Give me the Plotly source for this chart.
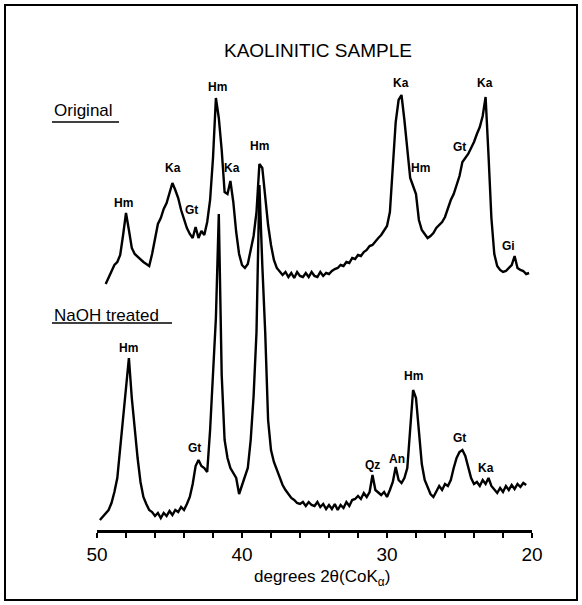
import numpy as np
import plotly.graph_objects as go

# ---------------- data ----------------
# degrees 2-theta grid endpoints (0.2 degree sampling, descending)
ORIG_START, ORIG_END = 49.4, 20.2
NAOH_START, NAOH_END = 49.8, 20.4

# Original sample intensities (arbitrary units, includes vertical offset)
orig_counts = [
    246, 252, 258, 265, 268, 275, 295, 317,
    300, 282, 276, 273, 271, 268, 266, 264, 276, 292,
    306, 312, 321, 327, 338, 347, 340, 332, 320, 310,
    302, 296, 292, 303, 292, 299, 295, 308, 330, 372,
    432, 412, 380, 338, 336, 349, 328, 298, 276, 265,
    262, 266, 280, 294, 318, 366, 362, 334, 305, 285,
    270, 262, 258, 255, 258, 253, 257, 252, 258, 254,
    253, 257, 253, 258, 254, 253, 258, 254, 257, 256,
    259, 261, 262, 265, 264, 268, 267, 272, 271, 275,
    274, 278, 280, 284, 285, 289, 292, 295, 299, 304,
    318, 360, 408, 430, 435, 410, 378, 352, 344, 336,
    310, 300, 296, 292, 294, 297, 302, 305, 308, 313,
    322, 330, 336, 346, 354, 368, 372, 376, 382, 388,
    396, 403, 414, 433, 375, 312, 276, 264, 260, 258,
    259, 262, 265, 274, 262, 260, 259, 256, 257,
]

# NaOH treated sample intensities
naoh_counts = [
    10, 13, 17, 20, 27, 38, 52, 82, 110, 145,
    172, 132, 100, 72, 48, 33, 26, 20, 18, 14,
    17, 12, 17, 14, 19, 15, 20, 18, 23, 20,
    26, 33, 46, 64, 70, 64, 62, 58, 100, 155,
    212, 316, 155, 90, 72, 62, 57, 52, 36, 44,
    52, 62, 90, 134, 198, 345, 265, 198, 110, 80,
    68, 60, 52, 45, 40, 36, 32, 30, 27, 26,
    28, 24, 28, 25, 24, 28, 23, 26, 21, 25,
    21, 26, 20, 25, 22, 28, 24, 30, 31, 34,
    31, 37, 33, 38, 55, 40, 37, 35, 38, 33,
    40, 48, 63, 50, 47, 52, 62, 102, 140, 132,
    96, 66, 50, 42, 36, 33, 38, 44, 40, 46,
    44, 50, 62, 72, 78, 80, 74, 64, 52, 46,
    48, 44, 50, 46, 52, 44, 40, 37, 42, 38,
    44, 40, 45, 41, 46, 43, 47, 45,
]

# peak labels: (text, degrees, intensity)
orig_labels = ["Hm", "Ka", "Gt", "Hm", "Ka", "Hm", "Ka", "Hm", "Gt", "Ka", "Gi"]
orig_label_deg = [48.2, 44.76, 43.45, 41.72, 40.69, 38.76, 29.03, 27.72, 24.97, 23.24, 21.59]
orig_label_int = [327, 362, 320, 443, 362, 384, 447, 362, 383, 447, 284]

naoh_labels = ["Hm", "Gt", "Qz", "An", "Hm", "Gt", "Ka"]
naoh_label_deg = [47.86, 43.31, 31.03, 29.31, 28.14, 24.97, 23.17]
naoh_label_int = [182, 82, 65, 71, 154, 92, 62]

major_ticks = [50, 40, 30, 20]
minor_step = 2

# ---------------- figure ----------------
orig_deg = np.linspace(ORIG_START, ORIG_END, len(orig_counts))
naoh_deg = np.linspace(NAOH_START, NAOH_END, len(naoh_counts))

FONT = "Liberation Sans"
fig = go.Figure()
fig.add_trace(go.Scatter(x=orig_deg, y=orig_counts, mode="lines",
                         line=dict(color="black", width=2.4), showlegend=False,
                         hoverinfo="skip"))
fig.add_trace(go.Scatter(x=naoh_deg, y=naoh_counts, mode="lines",
                         line=dict(color="black", width=2.4), showlegend=False,
                         hoverinfo="skip"))

for t, d, v in list(zip(orig_labels, orig_label_deg, orig_label_int)) + \
        list(zip(naoh_labels, naoh_label_deg, naoh_label_int)):
    fig.add_annotation(x=d, y=v, text=f"<b>{t}</b>", showarrow=False,
                       xanchor="center", yanchor="middle",
                       font=dict(family=FONT, size=12, color="black"))

fig.update_layout(
    width=582, height=605,
    margin=dict(l=97, r=50, t=30, b=75),
    paper_bgcolor="white", plot_bgcolor="white",
    showlegend=False,
    xaxis=dict(range=[50, 20], showgrid=False, zeroline=False,
               showline=True, linecolor="black", linewidth=2.5,
               ticks="outside", tickvals=major_ticks,
               ticktext=[str(v) for v in major_ticks],
               ticklen=5, tickwidth=2, tickcolor="black",
               tickfont=dict(family=FONT, size=19, color="black"),
               minor=dict(tick0=20, dtick=minor_step, ticks="outside",
                          ticklen=5, tickwidth=2, tickcolor="black",
                          showgrid=False)),
    yaxis=dict(range=[0, 500], visible=False),
)


def px_x(p):
    return (p - 97) / 435


def px_y(p):
    return (530 - p) / 500


# title, sample labels, axis title
fig.add_annotation(xref="paper", yref="paper", x=px_x(318), y=px_y(50),
                   xanchor="center", yanchor="middle",
                   text="KAOLINITIC SAMPLE", showarrow=False,
                   font=dict(family=FONT, size=19, color="black"))
fig.add_annotation(xref="paper", yref="paper", x=px_x(52), y=px_y(110),
                   xanchor="left", yanchor="middle", text="Original", showarrow=False,
                   font=dict(family=FONT, size=17, color="black"))
fig.add_annotation(xref="paper", yref="paper", x=px_x(52), y=px_y(315),
                   xanchor="left", yanchor="middle", text="NaOH treated", showarrow=False,
                   font=dict(family=FONT, size=17, color="black"))
fig.add_annotation(xref="paper", yref="paper", x=px_x(322), y=px_y(578),
                   xanchor="center", yanchor="middle",
                   text="degrees 2θ(CoK<sub>α</sub>)", showarrow=False,
                   font=dict(family=FONT, size=17, color="black"))

# underlines
fig.add_shape(type="line", xref="paper", yref="paper",
              x0=px_x(52), x1=px_x(119), y0=px_y(122), y1=px_y(122),
              line=dict(color="black", width=1.5))
fig.add_shape(type="line", xref="paper", yref="paper",
              x0=px_x(52), x1=px_x(172), y0=px_y(323), y1=px_y(323),
              line=dict(color="black", width=1.5))
# outer frame
fig.add_shape(type="rect", xref="paper", yref="paper",
              x0=px_x(5), x1=px_x(577), y0=px_y(600), y1=px_y(5),
              line=dict(color="black", width=2))

fig.write_html("out.html")
